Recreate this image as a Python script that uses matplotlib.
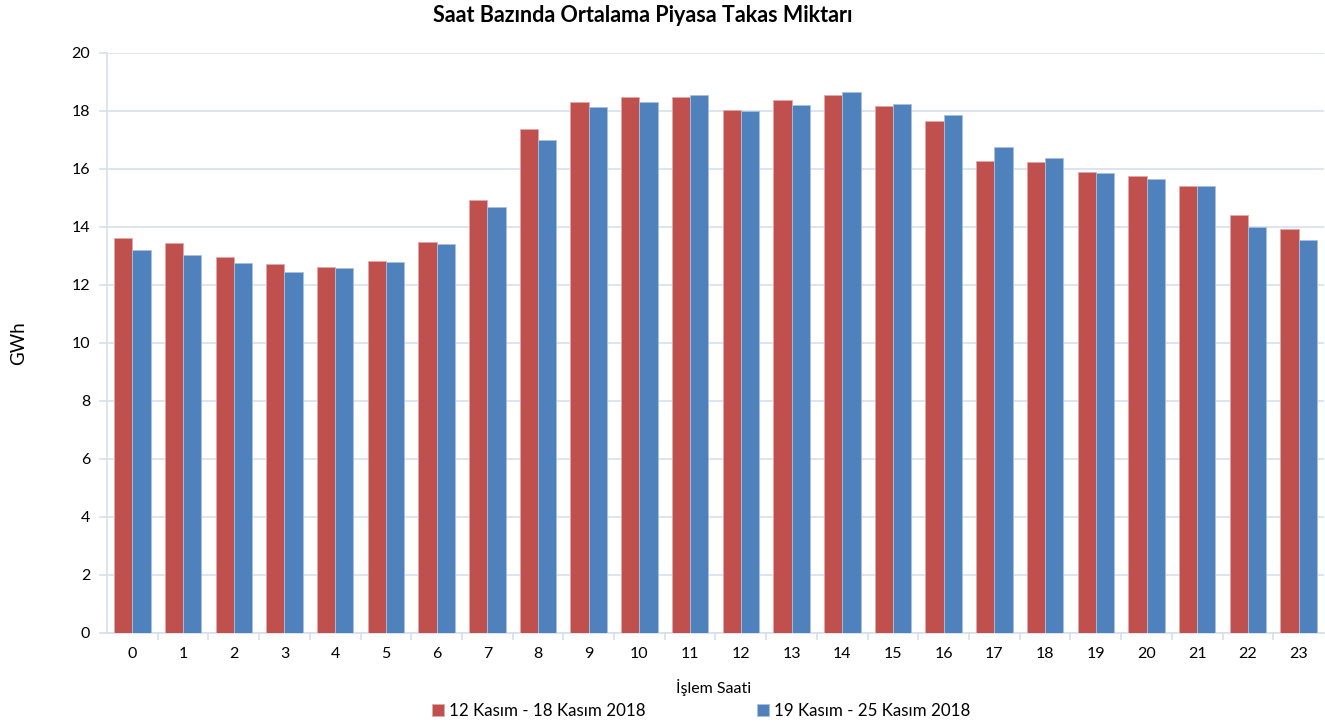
import matplotlib.pyplot as plt
import numpy as np

# veri (GWh)
hours = list(range(24))
week1 = [13.62, 13.45, 12.98, 12.71, 12.61, 12.83, 13.49, 14.93, 17.38, 18.32, 18.47, 18.47,
         18.03, 18.39, 18.56, 18.17, 17.64, 16.29, 16.25, 15.88, 15.76, 15.41, 14.40, 13.92]
week2 = [13.22, 13.03, 12.76, 12.45, 12.57, 12.80, 13.42, 14.69, 17.01, 18.14, 18.31, 18.56,
         17.99, 18.19, 18.64, 18.25, 17.85, 16.75, 16.38, 15.85, 15.67, 15.40, 14.00, 13.54]
labels = ['12 Kasım - 18 Kasım 2018', '19 Kasım - 25 Kasım 2018']

plt.rcParams['font.family'] = ['Lato', 'DejaVu Sans']

grid_c = '#D5DFEC'
red = '#C0504D'
blue = '#4F81BD'

fig = plt.figure(figsize=[13.25, 7.23], dpi=100)
ax = fig.add_axes([107 / 1325, 1 - 633 / 723, 1217 / 1325, 580 / 723])

x = np.arange(len(hours))
w = 0.36
ax.bar(x - w / 2, week1, w, color=red, edgecolor='#E3A9A7', linewidth=0.6, label=labels[0], zorder=3)
ax.bar(x + w / 2, week2, w, color=blue, edgecolor='#A9C0DE', linewidth=0.6, label=labels[1], zorder=3)

ax.set_xlim(-0.5, 23.5)
ax.set_ylim(0, 20)
ax.set_yticks(range(0, 21, 2))
ax.set_xticks(x)
ax.set_xticklabels([str(h) for h in hours])
ax.set_xticks(np.arange(0.5, 23, 1), minor=True)
ax.tick_params(axis='x', which='major', length=0, pad=10, labelsize=11.5)
ax.tick_params(axis='x', which='minor', length=5, color=grid_c, width=1.2)
ax.tick_params(axis='y', length=6, color=grid_c, width=1.2, pad=6, labelsize=11.5)

ax.grid(axis='y', color=grid_c, linewidth=1.2, zorder=0)
for s in ['top', 'right']:
    ax.spines[s].set_visible(False)
for s in ['left', 'bottom']:
    ax.spines[s].set_color(grid_c)
    ax.spines[s].set_linewidth(1.2)

ax.set_ylabel('GWh', fontsize=13.5)
ax.yaxis.set_label_coords(-0.066, 0.5)
fig.text(714 / 1325, 1 - 688 / 723, 'İşlem Saati', ha='center', va='center', fontsize=11.5)
fig.text(643 / 1325, 1 - 16 / 723, 'Saat Bazında Ortalama Piyasa Takas Miktarı',
         ha='center', va='center', fontsize=15.5, fontweight='bold')

fig.legend(loc='center', bbox_to_anchor=(701 / 1325, 1 - 711 / 723), ncol=2, frameon=False,
           fontsize=12.2, handlelength=0.7, handleheight=0.7, handletextpad=0.3,
           columnspacing=6.6, borderpad=0)

fig.savefig('out.png', dpi=100)
